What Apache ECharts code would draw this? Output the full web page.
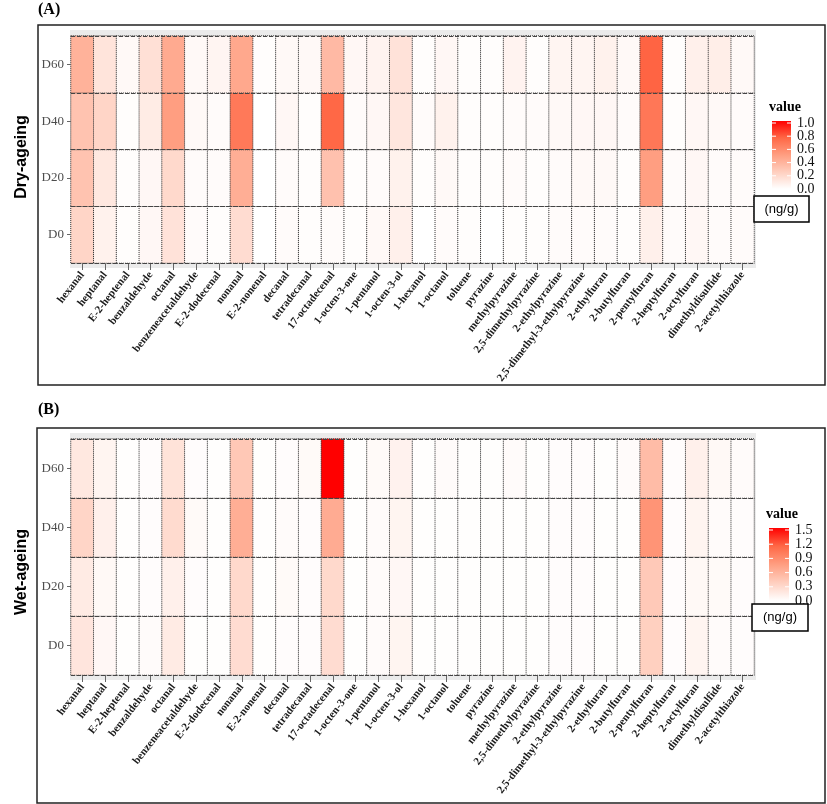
<!DOCTYPE html>
<html>
<head>
<meta charset="utf-8">
<script src="https://cdn.jsdelivr.net/npm/echarts@6/dist/echarts.min.js"></script>
<style>html,body{margin:0;padding:0;background:#fff;}#c{width:827px;height:804px;}</style>
</head>
<body>
<div id="c"></div>
<script>
const compounds = ['hexanal','heptanal','E-2-heptenal','benzaldehyde','octanal','benzeneacetaldehyde','E-2-dodecenal','nonanal','E-2-nonenal','decanal','tetradecanal','17-octadecenal','1-octen-3-one','1-pentanol','1-octen-3-ol','1-hexanol','1-octanol','toluene','pyrazine','methylpyrazine','2,5-dimethylpyrazine','2-ethylpyrazine','2,5-dimethyl-3-ethylpyrazine','2-ethylfuran','2-butylfuran','2-pentylfuran','2-heptylfuran','2-octylfuran','dimethyldisulfide','2-acetylthiazole'];
const days = ['D0','D20','D40','D60'];

const dryD0  = [0.22,0.07,0.01,0.04,0.15,0.02,0.01,0.18,0.00,0.02,0.01,0.02,0.01,0.03,0.08,0.00,0.02,0.01,0.00,0.01,0.01,0.02,0.02,0.02,0.01,0.08,0.02,0.04,0.02,0.02];
const dryD20 = [0.31,0.12,0.01,0.04,0.20,0.02,0.02,0.42,0.00,0.02,0.01,0.32,0.01,0.02,0.07,0.01,0.03,0.01,0.01,0.02,0.01,0.02,0.03,0.03,0.01,0.50,0.02,0.04,0.02,0.02];
const dryD40 = [0.31,0.22,0.01,0.10,0.50,0.03,0.02,0.67,0.00,0.04,0.01,0.75,0.02,0.04,0.13,0.02,0.07,0.01,0.01,0.02,0.02,0.03,0.04,0.04,0.02,0.68,0.01,0.04,0.03,0.02];
const dryD60 = [0.40,0.14,0.03,0.16,0.44,0.03,0.05,0.45,0.01,0.03,0.03,0.36,0.04,0.06,0.15,0.01,0.04,0.01,0.01,0.06,0.01,0.05,0.05,0.07,0.03,0.76,0.01,0.08,0.09,0.03];

const wetD0  = [0.20,0.06,0.01,0.03,0.16,0.01,0.01,0.27,0.01,0.02,0.02,0.27,0.01,0.03,0.08,0.01,0.01,0.01,0.01,0.01,0.01,0.02,0.02,0.01,0.01,0.37,0.02,0.08,0.03,0.02];
const wetD20 = [0.16,0.05,0.01,0.02,0.12,0.02,0.01,0.30,0.01,0.04,0.02,0.30,0.01,0.03,0.06,0.01,0.01,0.01,0.01,0.01,0.01,0.02,0.02,0.01,0.01,0.42,0.02,0.05,0.04,0.02];
const wetD40 = [0.33,0.12,0.01,0.02,0.28,0.04,0.01,0.63,0.01,0.03,0.02,0.65,0.01,0.03,0.08,0.01,0.01,0.01,0.01,0.01,0.01,0.02,0.02,0.01,0.01,0.82,0.02,0.08,0.03,0.02];
const wetD60 = [0.18,0.08,0.01,0.02,0.22,0.02,0.01,0.43,0.01,0.02,0.04,1.50,0.01,0.04,0.10,0.01,0.03,0.01,0.01,0.03,0.01,0.02,0.02,0.01,0.03,0.52,0.02,0.12,0.05,0.03];

const legendTicksA = [0.0,0.2,0.4,0.6,0.8,1.0];
const legendTicksB = [0.0,0.3,0.6,0.9,1.2,1.5];
const maxA = 1.0, maxB = 1.5;

function toData(rows){
  const out=[];
  rows.forEach((r,yi)=>r.forEach((v,xi)=>out.push([xi,yi,v])));
  return out;
}
const dataA = toData([dryD0,dryD20,dryD40,dryD60]);
const dataB = toData([wetD0,wetD20,wetD40,wetD60]);

const SERIF = 'Liberation Serif';
const SANS = 'Liberation Sans';
const ramp = ['#ffffff','#ffcfbf','#ff9e81','#ff6846','#ff0000'];

const grids = [
  {left:71, top:36, width:683, height:227},
  {left:71, top:439, width:683, height:236}
];
const legendPos = [
  {left:772, top:121, w:19, h:68},
  {left:769, top:528, w:20, h:73}
];

function xAxisFor(i){
  return {type:'category', gridIndex:i, data:compounds, boundaryGap:true,
    axisLine:{show:false},
    axisTick:{show:true, alignWithLabel:true, length:7, lineStyle:{color:'#666'}},
    axisLabel:{rotate:52, margin:10, interval:0, fontFamily:SERIF, fontWeight:'bold', fontSize:11, color:'#1a1a1a'},
    splitLine:{show:false}};
}
function yAxisFor(i){
  return {type:'category', gridIndex:i, data:days, boundaryGap:true, z:5,
    axisLine:{show:false},
    axisTick:{show:true, alignWithLabel:true, length:4, lineStyle:{color:'#666'}},
    axisLabel:{margin:7, fontFamily:SERIF, fontSize:13, color:'#4d4d4d'},
    splitLine:{show:true, lineStyle:{color:'#444', width:1, type:[4,2]}}};
}

const graphic = [];
graphic.push({type:'rect', z:1, shape:{x:38,y:25,width:787,height:360}, style:{fill:'none', stroke:'#222', lineWidth:1.5}});
graphic.push({type:'rect', z:1, shape:{x:37,y:428,width:788,height:375}, style:{fill:'none', stroke:'#222', lineWidth:1.5}});
graphic.push({type:'rect', z:0, shape:{x:70,y:30,width:686,height:238}, style:{fill:'#ebebeb'}});
graphic.push({type:'rect', z:0, shape:{x:70,y:433,width:686,height:247}, style:{fill:'#ebebeb'}});
graphic.push({type:'text', z:1, x:38, y:2, style:{text:'(A)', font:'bold 16px '+SERIF, fill:'#000'}});
graphic.push({type:'text', z:1, x:38, y:402, style:{text:'(B)', font:'bold 16px '+SERIF, fill:'#000'}});
graphic.push({type:'text', z:1, x:22, y:157, rotation:Math.PI/2, style:{text:'Dry-ageing', font:'bold 16px '+SANS, fill:'#000', align:'center', verticalAlign:'middle'}});
graphic.push({type:'text', z:1, x:22, y:572, rotation:Math.PI/2, style:{text:'Wet-ageing', font:'bold 16px '+SANS, fill:'#000', align:'center', verticalAlign:'middle'}});

const gradStops = ramp.map((c,i)=>({offset:i/(ramp.length-1), color:c}));
[[legendTicksA,maxA,legendPos[0]],[legendTicksB,maxB,legendPos[1]]].forEach(([ticks,mx,p])=>{
  graphic.push({type:'rect', z:9, shape:{x:p.left,y:p.top,width:p.w,height:p.h},
    style:{fill:new echarts.graphic.LinearGradient(0,1,0,0,gradStops)}});
  graphic.push({type:'text', z:1, x:p.left-3, y:p.top-14, style:{text:'value', font:'bold 14px '+SERIF, fill:'#000', verticalAlign:'middle'}});
  ticks.forEach(t=>{
    const yy = p.top + 2 + (p.h-2)*(1 - t/mx);
    graphic.push({type:'text', z:1, x:p.left+p.w+6, y:yy, style:{text:t.toFixed(1), font:'14px '+SERIF, fill:'#111', verticalAlign:'middle'}});
    graphic.push({type:'line', z:10, shape:{x1:p.left, y1:yy, x2:p.left+4, y2:yy}, style:{stroke:'#fff', lineWidth:1}});
    graphic.push({type:'line', z:10, shape:{x1:p.left+p.w-4, y1:yy, x2:p.left+p.w, y2:yy}, style:{stroke:'#fff', lineWidth:1}});
  });
});
graphic.push({type:'rect', z:11, shape:{x:754,y:196,width:55,height:26}, style:{fill:'#fff', stroke:'#000', lineWidth:1.5}});
graphic.push({type:'text', z:12, x:781.5, y:209, style:{text:'(ng/g)', font:'13px '+SANS, fill:'#000', align:'center', verticalAlign:'middle'}});
graphic.push({type:'rect', z:11, shape:{x:752,y:604,width:56,height:27}, style:{fill:'#fff', stroke:'#000', lineWidth:1.5}});
graphic.push({type:'text', z:12, x:780, y:617.5, style:{text:'(ng/g)', font:'13px '+SANS, fill:'#000', align:'center', verticalAlign:'middle'}});

const option = {
  animation:false,
  backgroundColor:'#fff',
  grid: grids,
  xAxis:[xAxisFor(0), xAxisFor(1)],
  yAxis:[yAxisFor(0), yAxisFor(1)],
  visualMap:[
    {type:'continuous', show:false, seriesIndex:0, min:0, max:maxA, inRange:{color:ramp}},
    {type:'continuous', show:false, seriesIndex:1, min:0, max:maxB, inRange:{color:ramp}}
  ],
  series:[
    {type:'heatmap', xAxisIndex:0, yAxisIndex:0, data:dataA,
     itemStyle:{borderColor:'#333', borderWidth:1, borderType:'dotted'}},
    {type:'heatmap', xAxisIndex:1, yAxisIndex:1, data:dataB,
     itemStyle:{borderColor:'#333', borderWidth:1, borderType:'dotted'}}
  ],
  graphic: graphic
};
const chart = echarts.init(document.getElementById('c'), null, {renderer:'canvas'});
chart.setOption(option);
</script>
</body>
</html>
